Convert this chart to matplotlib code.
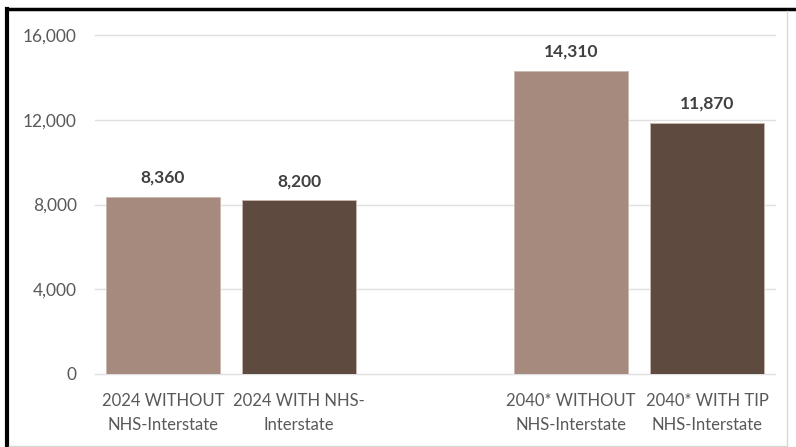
import matplotlib
matplotlib.use("Agg")
import matplotlib.pyplot as plt
from matplotlib.lines import Line2D
from matplotlib.ticker import FuncFormatter

categories = ["2024 WITHOUT\nNHS-Interstate", "2024 WITH NHS-\nInterstate",
              "2040* WITHOUT\nNHS-Interstate", "2040* WITH TIP\nNHS-Interstate"]
values = [8360, 8200, 14310, 11870]
slots = [0, 1, 3, 4]  # slot 2 left empty between the two years
colors = ["#A68A7D", "#5E4A3F", "#A68A7D", "#5E4A3F"]
yticks = [0, 4000, 8000, 12000, 16000]

plt.rcParams['font.family'] = ['Lato', 'DejaVu Sans']

W, H = 796, 447
fig = plt.figure(figsize=(W / 100, H / 100), dpi=100)
ax = fig.add_axes([95 / W, 1 - 374 / H, 680 / W, 339 / H])

ax.bar(slots, values, width=0.84, color=colors, edgecolor="#C9B8B0", linewidth=0.6, zorder=3)

for x, v in zip(slots, values):
    ax.text(x, v + 900, f"{v:,}", ha="center", va="center", fontsize=12.5,
            fontweight="bold", color="#404040")

ax.set_xlim(-0.5, 4.5)
ax.set_ylim(0, 16000)
ax.set_yticks(yticks)
ax.yaxis.set_major_formatter(FuncFormatter(lambda v, p: f"{int(v):,}"))
ax.set_xticks(slots)
ax.set_xticklabels(categories, linespacing=1.55)
ax.tick_params(axis="both", length=0, colors="#595959")
ax.tick_params(axis="y", pad=13, labelsize=12.5)
ax.tick_params(axis="x", pad=14, labelsize=12)
ax.grid(axis="y", color="#E0E0E0", linewidth=1, zorder=0)
for gl in ax.get_ygridlines():
    gl.set_clip_on(False)
for s in ax.spines.values():
    s.set_visible(False)

# outer frame: heavy black on top/left, faint grey on right/bottom
fig.add_artist(Line2D([7 / W, 7 / W], [0, 1 - 9 / H], color="black", linewidth=3))
fig.add_artist(Line2D([7 / W, 1], [1 - 9 / H, 1 - 9 / H], color="black", linewidth=2.5))
fig.add_artist(Line2D([787 / W, 787 / W], [0, 1 - 11 / H], color="#D8D8D8", linewidth=1))
fig.add_artist(Line2D([9 / W, 787 / W], [1 / H, 1 / H], color="#D8D8D8", linewidth=1))

fig.savefig("out.png", dpi=100)
